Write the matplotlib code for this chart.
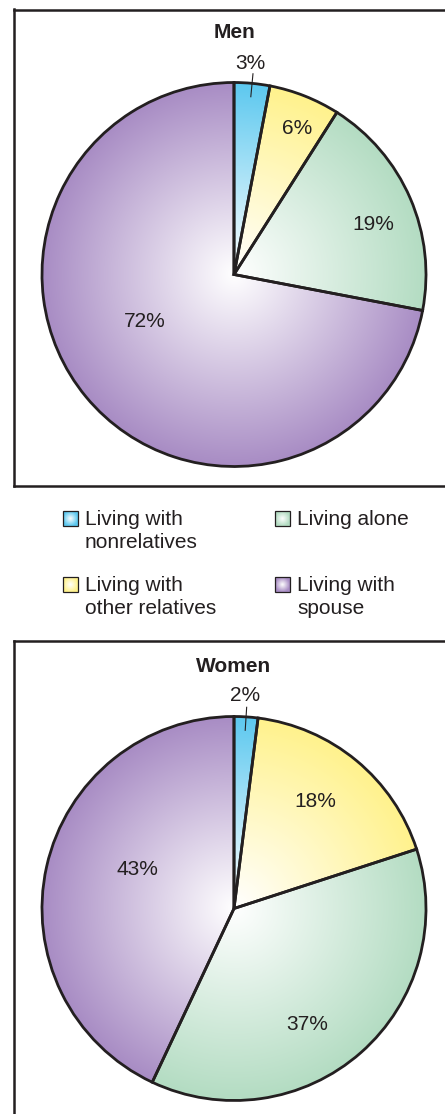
import numpy as np
import matplotlib
matplotlib.use("Agg")
import matplotlib.pyplot as plt
from matplotlib.colors import to_rgb
from matplotlib.patches import Rectangle

plt.rcParams['font.family'] = ['Liberation Sans', 'DejaVu Sans']

# Living arrangements, percent of each group
categories = ["Living with\nnonrelatives", "Living with\nother relatives",
              "Living alone", "Living with\nspouse"]
men_share = [3, 6, 19, 72]
women_share = [2, 18, 37, 43]
panel_titles = ["Men", "Women"]

# Styling
edge_colors = ["#5cc8ef", "#fff28c", "#b3dcc2", "#a88cc4"]
ink = "#231f20"
FS = 15
LINE_STEP = 23.5  # pixel distance between lines of a legend label

W, H = 445, 1114
fig = plt.figure(figsize=(W / 100, H / 100), dpi=100)


def radial_fill(color, n=500):
    g = np.linspace(-1, 1, n)
    xx, yy = np.meshgrid(g, g)
    r = np.clip(np.hypot(xx, yy), 0, 1)[..., None]
    c = np.array(to_rgb(color))
    return (1 - r) * 1.0 + r * c


# Legend (pixel coordinates on an overlay axes)
lax = fig.add_axes([0, 0, 1, 1])
lax.set_axis_off()
legend_slots = [(63, 511), (63, 577), (275, 511), (275, 577)]
for (sx, sy), label, col in zip(legend_slots, categories, edge_colors):
    sq = 15
    lax.imshow(radial_fill(col, 60), extent=(sx, sx + sq, sy + sq, sy),
               interpolation='bilinear', zorder=1)
    lax.add_patch(Rectangle((sx, sy), sq, sq, facecolor='none',
                            edgecolor=ink, linewidth=0.9, zorder=2))
    nlines = label.count("\n") + 1
    lax.text(sx + 22, sy + 14 + (nlines - 1) * LINE_STEP, label,
             fontsize=FS, color=ink, ha='left', va='baseline',
             linespacing=1.28)
lax.set_aspect('auto')
lax.set_xlim(0, W)
lax.set_ylim(H, 0)


def draw_panel(box, center, radius, values, title, title_y, label_xy,
               hide_spines):
    x0, y0, x1, y1 = box
    ax = fig.add_axes([x0 / W, 1 - y1 / H, (x1 - x0) / W, (y1 - y0) / H])
    cx, cy = center
    wedges, _ = ax.pie(values, startangle=90, counterclock=False, radius=1,
                       frame=True,
                       wedgeprops=dict(facecolor='none', edgecolor=ink,
                                       linewidth=2.0, zorder=3))
    for w, col in zip(wedges, edge_colors):
        im = ax.imshow(radial_fill(col), extent=(-1, 1, -1, 1),
                       origin='lower', interpolation='bilinear', zorder=1)
        im.set_clip_path(w)

    ax.text(0, title_y, title, fontsize=FS, fontweight='bold', color=ink,
            ha='center', va='baseline')

    # percentage labels
    for v, (lx, ly) in zip(values, label_xy):
        ax.text(lx, ly, f"{v}%", fontsize=FS, color=ink,
                ha='center', va='baseline')

    # leader line for the thin first slice
    mid = np.deg2rad(90 - 360 * (values[0] / 2) / sum(values))
    rr = np.array([0.93, 1.05])
    ax.plot(rr * np.cos(mid), rr * np.sin(mid), color=ink, lw=0.8, zorder=4)

    ax.set_aspect('auto')
    ax.set_xlim((x0 - cx) / radius, (x1 - cx) / radius)
    ax.set_ylim((cy - y1) / radius, (cy - y0) / radius)
    ax.set_xticks([])
    ax.set_yticks([])
    for side, sp in ax.spines.items():
        sp.set_linewidth(1.8)
        sp.set_color(ink)
        if side in hide_spines:
            sp.set_visible(False)
    return ax


draw_panel((14, 9.5, 445, 486.5), (234, 274.5), 192, men_share,
           panel_titles[0], 1.232,
           [(0.087, 1.068), (0.328, 0.734), (0.724, 0.234), (-0.464, -0.276)],
           ('right',))

draw_panel((14, 641, 445, 1114), (234, 908.5), 192, women_share,
           panel_titles[1], 1.233,
           [(0.057, 1.082), (0.422, 0.531), (0.380, -0.635), (-0.505, 0.172)],
           ('right', 'bottom'))

fig.savefig("out.png", dpi=100)
